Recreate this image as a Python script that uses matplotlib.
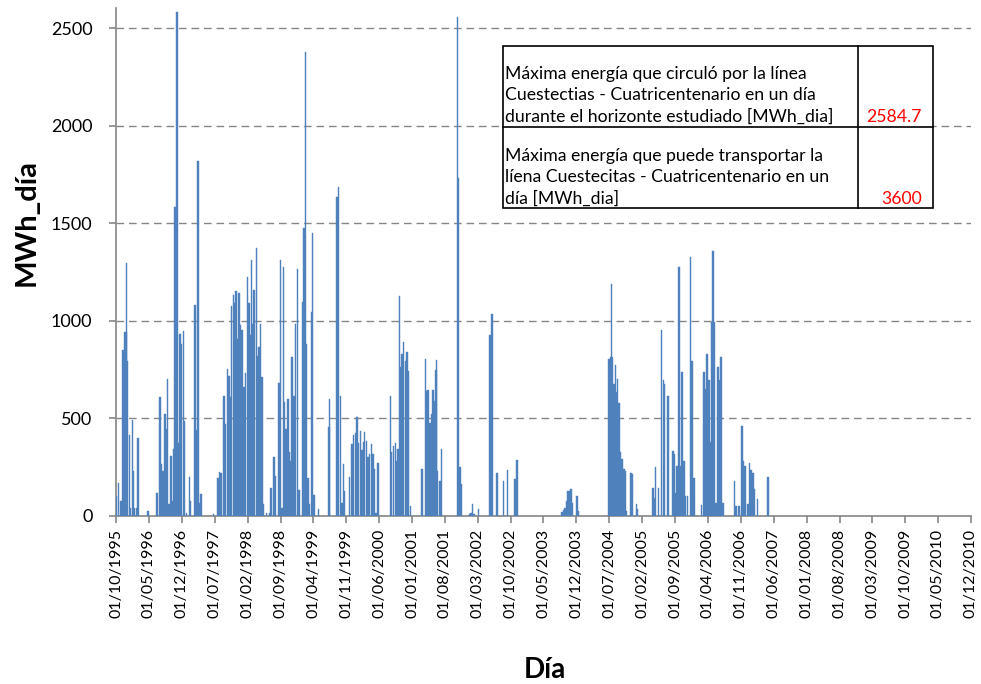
import matplotlib
matplotlib.use("Agg")
import matplotlib.pyplot as plt
from matplotlib.patches import Rectangle
from matplotlib.lines import Line2D
import pandas as pd

# energia diaria (MWh_dia), agrupada por temporada
fechas = [
    # 1995-1996
    "1995-10-04", "1995-10-17", "1995-11-02", "1995-11-17", "1995-11-25", "1995-12-04",
    "1995-12-08", "1995-12-15", "1995-12-26", "1996-01-03", "1996-01-16", "1996-01-22",
    "1996-01-29", "1996-02-11", "1996-02-19", "1996-04-25",
    "1996-06-22", "1996-07-11", "1996-07-22", "1996-08-02", "1996-08-12", "1996-08-19",
    "1996-08-30", "1996-09-10", "1996-09-20", "1996-10-01", "1996-10-10", "1996-10-16",
    "1996-10-23", "1996-11-01", "1996-11-09", "1996-11-20", "1996-11-29", "1996-12-10",
    "1996-12-18", "1996-12-31", "1997-01-18", "1997-01-26", "1997-02-25", "1997-03-06",
    "1997-03-17", "1997-03-27", "1997-04-05", "1997-06-24",
    # 1997-1998
    "1997-07-22", "1997-08-02", "1997-08-12", "1997-08-30", "1997-09-10", "1997-09-21",
    "1997-10-01", "1997-10-08", "1997-10-19", "1997-10-30", "1997-11-09", "1997-11-18",
    "1997-11-25", "1997-12-05", "1997-12-16", "1997-12-27", "1998-01-07", "1998-01-18",
    "1998-01-29", "1998-02-08", "1998-02-14", "1998-02-25", "1998-03-06", "1998-03-12",
    "1998-03-28", "1998-04-07", "1998-04-16", "1998-04-25", "1998-05-03", "1998-05-10",
    "1998-06-03", "1998-06-24", "1998-07-03", "1998-07-20", "1998-07-31",
    # 1998-1999
    "1998-08-21", "1998-09-02", "1998-09-10", "1998-09-19", "1998-09-27", "1998-10-08",
    "1998-10-21", "1998-10-30", "1998-11-07", "1998-11-16", "1998-11-27", "1998-12-08",
    "1998-12-19", "1998-12-29", "1999-01-22", "1999-01-31", "1999-02-09", "1999-02-17",
    "1999-02-26", "1999-03-09", "1999-03-20", "1999-03-28", "1999-04-05", "1999-05-04",
    # 1999-2000
    "1999-07-12", "1999-07-16", "1999-09-02", "1999-09-13", "1999-09-24", "1999-10-04",
    "1999-10-13", "1999-10-21", "1999-11-21", "1999-12-08", "1999-12-19", "1999-12-30",
    "2000-01-09", "2000-01-20", "2000-01-31", "2000-02-11", "2000-02-22", "2000-02-28",
    "2000-03-10", "2000-03-21", "2000-04-01", "2000-04-12", "2000-04-22", "2000-05-03",
    "2000-05-11", "2000-05-24",
    # 2000-2001
    "2000-08-13", "2000-08-19", "2000-09-01", "2000-09-14", "2000-09-25", "2000-10-01",
    "2000-10-10", "2000-10-19", "2000-10-27", "2000-11-07", "2000-11-18", "2000-11-28",
    "2000-12-09", "2000-12-20",
    "2001-03-06", "2001-03-28", "2001-04-05", "2001-04-14", "2001-04-25", "2001-05-06",
    "2001-05-16", "2001-05-25", "2001-06-04", "2001-06-09", "2001-06-14", "2001-06-30",
    "2001-07-11",
    # 2001-2003
    "2001-10-21", "2001-10-28", "2001-11-07", "2001-11-18", "2002-01-07", "2002-01-17",
    "2002-01-26", "2002-02-06", "2002-03-06", "2002-05-21", "2002-06-03", "2002-07-03",
    "2002-08-15", "2002-09-10", "2002-10-30", "2002-11-10",
    "2003-08-30", "2003-09-10", "2003-09-20", "2003-09-28", "2003-10-04", "2003-10-13",
    "2003-10-26", "2003-11-03", "2003-12-06", "2003-12-12",
    # 2004
    "2004-06-28", "2004-07-09", "2004-07-16", "2004-07-22", "2004-07-31", "2004-08-11",
    "2004-08-17", "2004-08-24", "2004-09-01", "2004-09-12", "2004-09-22", "2004-10-03",
    "2004-10-10", "2004-10-21", "2004-11-18", "2004-11-26", "2004-12-25", "2004-12-31",
    # 2005-2007
    "2005-04-11", "2005-04-16", "2005-04-27", "2005-05-16", "2005-06-05", "2005-06-18",
    "2005-06-24", "2005-07-16", "2005-08-17", "2005-08-28", "2005-09-07", "2005-09-12",
    "2005-09-25", "2005-10-03", "2005-10-16", "2005-10-27", "2005-11-07", "2005-11-20",
    "2005-12-10", "2005-12-18", "2005-12-31", "2006-02-19", "2006-03-08", "2006-03-17",
    "2006-03-27", "2006-04-07", "2006-04-18", "2006-04-25", "2006-05-05", "2006-05-12",
    "2006-05-25", "2006-06-05", "2006-06-16", "2006-06-26", "2006-07-07",
    "2006-09-21", "2006-10-01", "2006-10-19", "2006-11-09", "2006-11-18", "2006-11-29",
    "2006-12-16", "2006-12-27", "2007-01-07", "2007-01-18", "2007-01-24", "2007-02-17",
    "2007-04-27",
]

energia = [
    # 1995-1996
    100, 170, 77, 852, 943, 943,
    1295, 797, 417, 40, 492, 231,
    43, 43, 398, 26,
    120, 612, 266, 231, 523, 446,
    703, 60, 309, 77, 343, 1583,
    1286, 2584.7, 375, 935, 883, 948,
    489, 17, 202, 77, 1080, 441,
    1821, 69, 111, 9,
    # 1997-1998
    197, 226, 223, 617, 472, 755,
    720, 609, 1075, 1132, 1092, 1152,
    909, 1144, 981, 955, 660, 732,
    1226, 1092, 926, 1312, 986, 1158,
    1372, 818, 866, 983, 712, 60,
    17, 17, 146, 300, 206,
    # 1998-1999
    681, 1312, 40, 1278, 583, 446,
    600, 326, 283, 815, 617, 986,
    1266, 134, 1098, 1475, 2379, 883,
    197, 60, 1046, 1453, 108, 38,
    # 1999-2000
    458, 600, 1638, 1686, 617, 69,
    266, 129, 201, 369, 417, 424,
    506, 372, 434, 338, 377, 429,
    386, 304, 317, 369, 317, 240,
    17, 271,
    # 2000-2001
    617, 326, 360, 374, 283, 343,
    1127, 763, 832, 892, 797, 840,
    746, 51,
    240, 806, 643, 647, 475, 523,
    648, 592, 751, 801, 231, 180,
    343,
    # 2001-2003
    2560, 1732, 252, 166, 10, 17,
    63, 10, 34, 926, 1034, 218,
    180, 235, 189, 288,
    20, 30, 40, 77, 129, 129,
    137, 69, 103, 26,
    # 2004
    806, 815, 1192, 815, 677, 772,
    635, 703, 578, 326, 292, 240,
    231, 26, 223, 214, 60, 34,
    # 2005-2007
    146, 94, 252, 146, 955, 698,
    677, 617, 334, 317, 120, 257,
    1278, 257, 737, 283, 103, 103,
    1326, 797, 194, 55, 737, 652,
    832, 698, 377, 995, 1360, 995,
    69, 763, 695, 815, 69,
    180, 51, 51, 463, 283, 257,
    60, 274, 235, 223, 137, 86,
    201,
]

textos_tabla = [
    "Máxima energía que circuló por la línea\nCuestectias - Cuatricentenario en un día\n"
    "durante el horizonte estudiado [MWh_dia]",
    "Máxima energía que puede transportar la\nlíena Cuestecitas - Cuatricentenario en un\n"
    "día [MWh_dia]",
]
valores_tabla = ["2584.7", "3600"]

plt.rcParams["font.family"] = ["Lato", "DejaVu Sans"]

W, H = 981, 684
fig = plt.figure(figsize=(W / 100, H / 100), dpi=100)
ax = fig.add_axes([116 / W, 1 - 516 / H, (971 - 116) / W, (516 - 8) / H])

x = pd.to_datetime(fechas)
ax.bar(x, energia, width=10, color="#4F81BD", edgecolor="#4F81BD", linewidth=0.3,
       align="center", zorder=3)

ax.set_xlim(pd.Timestamp("1995-10-01"), pd.Timestamp("2010-12-01"))
ax.set_ylim(0, 2605)
ax.set_yticks([0, 500, 1000, 1500, 2000, 2500])

ticks = pd.date_range("1995-10-01", "2010-12-01", freq="7MS")
ax.set_xticks(ticks)
ax.set_xticklabels([t.strftime("%d/%m/%Y") for t in ticks], rotation=90)

ax.yaxis.grid(True, color="#868686", linewidth=1.0, linestyle=(0, (5.5, 3.5)), zorder=1)
for s in ["top", "right"]:
    ax.spines[s].set_visible(False)
for s in ["left", "bottom"]:
    ax.spines[s].set_color("#868686")
    ax.spines[s].set_linewidth(1.2)
ax.tick_params(axis="both", direction="out", length=5, color="#868686", width=1.2,
               labelcolor="black")
ax.tick_params(axis="x", labelsize=11.5, pad=4)
ax.tick_params(axis="y", labelsize=13, pad=12)

fig.text(27 / W, 1 - 222 / H, "MWh_día", rotation=90, ha="center", va="center",
         fontsize=21, fontweight="bold")
fig.text(545 / W, 1 - 670 / H, "Día", ha="center", va="center",
         fontsize=20, fontweight="bold")

# cuadro de texto con los maximos
def px(xp, yp):
    return xp / W, 1 - yp / H

x0, xm, x2 = 503, 858, 933
y0, ym, y2 = 46, 127, 208
fig.add_artist(Rectangle(px(x0, y2), (x2 - x0) / W, (y2 - y0) / H, transform=fig.transFigure,
                         facecolor="white", edgecolor="black", linewidth=1.2, zorder=5))
fig.add_artist(Line2D([x0 / W, x2 / W], [1 - ym / H] * 2, color="black", linewidth=1.2, zorder=6))
fig.add_artist(Line2D([xm / W] * 2, [1 - y0 / H, 1 - y2 / H], color="black", linewidth=1.2, zorder=6))

for i, (t, v) in enumerate(zip(textos_tabla, valores_tabla)):
    ybot = [125, 207][i]
    fig.text(*px(505, ybot), t, ha="left", va="bottom", fontsize=12.7,
             linespacing=1.42, zorder=7)
    fig.text(*px(922, ybot), v, ha="right", va="bottom", fontsize=12.7,
             color="red", zorder=7)

fig.savefig("out.png", dpi=100)
